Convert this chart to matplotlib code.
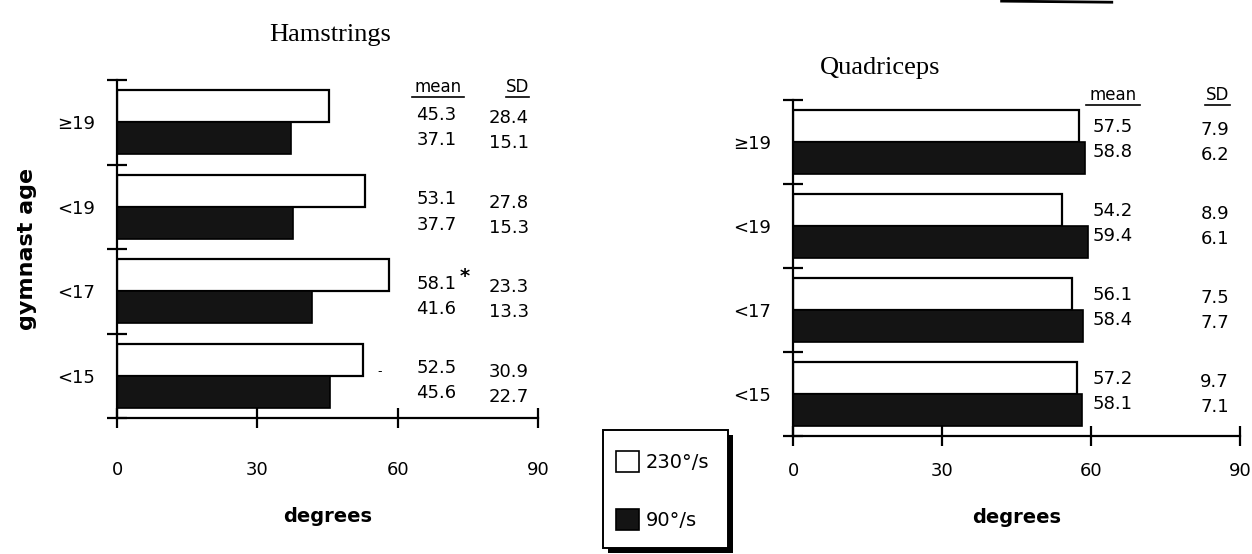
import numpy as np
import matplotlib.pyplot as plt
from matplotlib.patches import Rectangle, Patch
from matplotlib.lines import Line2D

# Data
ages = ['≥19', '<19', '<17', '<15']
ham_230_mean = [45.3, 53.1, 58.1, 52.5]
ham_90_mean = [37.1, 37.7, 41.6, 45.6]
ham_230_sd = [28.4, 27.8, 23.3, 30.9]
ham_90_sd = [15.1, 15.3, 13.3, 22.7]
quad_230_mean = [57.5, 54.2, 56.1, 57.2]
quad_90_mean = [58.8, 59.4, 58.4, 58.1]
quad_230_sd = [7.9, 8.9, 7.5, 9.7]
quad_90_sd = [6.2, 6.1, 7.7, 7.1]
xticks = [0, 30, 60, 90]

dark = '#141414'
num_font = 'DejaVu Sans'
title_font = 'Liberation Serif'

fig = plt.figure(figsize=(12.52, 5.54), dpi=100)
fig.patch.set_facecolor('white')

pos = np.arange(len(ages))[::-1]  # >=19 on top
h = 0.38


def draw_panel(ax, m230, m90, s230, s90, mean_x, sd_x, hdr_mean_x, hdr_sd_x,
               hdr_y, off_w, off_d, tick_pad, xl_pad):
    ax.barh(pos + h / 2, m230, height=h, color='white', edgecolor='black', lw=1.6)
    ax.barh(pos - h / 2, m90, height=h, color=dark, edgecolor='black', lw=1.2)
    ax.set_xlim(0, 90)
    ax.set_ylim(-0.5, 3.5)
    for s in ['top', 'right']:
        ax.spines[s].set_visible(False)
    for s in ['left', 'bottom']:
        ax.spines[s].set_linewidth(1.6)
    ax.set_xticks(xticks)
    ax.set_xticklabels([str(t) for t in xticks], fontsize=13, family=num_font)
    ax.tick_params(axis='x', direction='inout', length=14, width=1.6, pad=tick_pad)
    ax.set_yticks(np.arange(-0.5, 4, 1.0))
    ax.set_yticklabels([])
    ax.set_yticks(pos, minor=True)
    ax.set_yticklabels(ages, minor=True, fontsize=13, family=num_font)
    ax.tick_params(axis='y', which='major', direction='inout', length=14, width=1.6)
    ax.tick_params(axis='y', which='minor', length=0, pad=16)
    ax.set_xlabel('degrees', fontsize=14, fontweight='bold', labelpad=xl_pad)
    ax.text(hdr_mean_x, hdr_y, 'mean', ha='center', va='center', fontsize=12)
    ax.text(hdr_sd_x, hdr_y, 'SD', ha='center', va='center', fontsize=12)
    ax.plot([hdr_mean_x - 5.5, hdr_mean_x + 5.5], [hdr_y - 0.12] * 2, color='black',
            lw=1.2, clip_on=False)
    ax.plot([hdr_sd_x - 2.5, hdr_sd_x + 2.5], [hdr_y - 0.12] * 2, color='black',
            lw=1.2, clip_on=False)
    for i, p in enumerate(pos):
        ax.text(mean_x, p + off_w, f'{m230[i]:.1f}', ha='left', va='center', fontsize=13)
        ax.text(mean_x, p + off_d, f'{m90[i]:.1f}', ha='left', va='center', fontsize=13)
        ax.text(sd_x, p + off_w - 0.04, f'{s230[i]:.1f}', ha='left', va='center', fontsize=13)
        ax.text(sd_x, p + off_d - 0.04, f'{s90[i]:.1f}', ha='left', va='center', fontsize=13)


ax1 = fig.add_axes([0.0935, 0.2455, 0.3363, 0.610])
draw_panel(ax1, ham_230_mean, ham_90_mean, ham_230_sd, ham_90_sd,
           mean_x=64, sd_x=79.5, hdr_mean_x=68.6, hdr_sd_x=85.6, hdr_y=3.42,
           off_w=0.09, off_d=-0.21, tick_pad=24, xl_pad=20)
ax1.set_ylabel('gymnast age', fontsize=16, fontweight='bold', labelpad=14)
ax1.text(64 + 9.3, pos[2] + 0.18, '*', fontsize=14, fontweight='bold', ha='left', va='center')
ax1.text(56.2, pos[3] + 0.05, '-', fontsize=9, ha='center', va='center')

ax2 = fig.add_axes([0.6334, 0.213, 0.357, 0.6065])
draw_panel(ax2, quad_230_mean, quad_90_mean, quad_230_sd, quad_90_sd,
           mean_x=60.3, sd_x=82, hdr_mean_x=64.4, hdr_sd_x=85.5, hdr_y=3.56,
           off_w=0.18, off_d=-0.12, tick_pad=12, xl_pad=20)

fig.text(0.264, 0.937, 'Hamstrings', ha='center', va='center', fontsize=19, family=title_font)
fig.text(0.703, 0.877, 'Quadriceps', ha='center', va='center', fontsize=19, family=title_font)

# legend box with heavy shadow on right and bottom
fig.add_artist(Rectangle((0.4856, 0.002), 0.0999, 0.2128, transform=fig.transFigure,
                         facecolor='black', edgecolor='none', zorder=1))
fig.add_artist(Rectangle((0.4816, 0.0108), 0.0999, 0.2130, transform=fig.transFigure,
                         facecolor='white', edgecolor='black', lw=1.4, zorder=2))
handles = [Patch(facecolor='white', edgecolor='black', lw=1.2, label='230°/s'),
           Patch(facecolor=dark, edgecolor='black', lw=1.2, label='90°/s')]
leg = fig.legend(handles=handles, loc='upper left', bbox_to_anchor=(0.489, 0.193),
                 fontsize=14, frameon=False, handlelength=1.2, handleheight=1.3,
                 handletextpad=0.3, labelspacing=1.9, borderpad=0.2, borderaxespad=0)
leg.set_zorder(3)

# clipped underline at the very top of the scan
fig.add_artist(Line2D([0.80, 0.888], [0.998, 0.996], transform=fig.transFigure,
                      color='black', lw=2))

fig.savefig('out.png', dpi=100)
